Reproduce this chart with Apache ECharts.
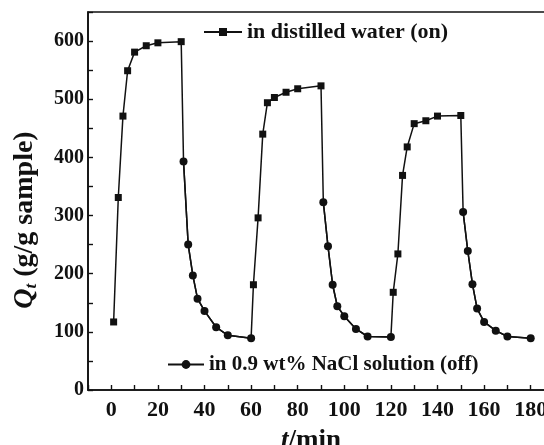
<!DOCTYPE html>
<html>
<head>
<meta charset="utf-8">
<script src="https://cdn.jsdelivr.net/npm/echarts@6/dist/echarts.min.js"></script>
<style>
  html, body { margin: 0; padding: 0; background: #fff; }
  #main { width: 544px; height: 445px; }
</style>
</head>
<body>
<div id="main"></div>
<script>
// 数据：溶胀（蒸馏水）与退溶胀（0.9 wt% NaCl）三个循环
var onTime = [1, 3, 5, 7, 10, 15, 20, 30, 61, 63, 65, 67, 70, 75, 80, 90, 121, 123, 125, 127, 130, 135, 140, 150];
var onQ = [117, 331, 471, 549, 581, 592, 597, 599, 181, 296, 440, 494, 503, 512, 518, 523, 168, 234, 369, 418, 458, 463, 471, 472];
var offTime = [31, 33, 35, 37, 40, 45, 50, 60, 91, 93, 95, 97, 100, 105, 110, 120, 151, 153, 155, 157, 160, 165, 170, 180];
var offQ = [393, 250, 197, 157, 136, 108, 94, 89, 323, 247, 181, 144, 127, 105, 92, 91, 306, 239, 182, 140, 117, 102, 92, 89];
var xLabels = [0, 20, 40, 60, 80, 100, 120, 140, 160, 180];
var yLabels = [0, 100, 200, 300, 400, 500, 600];

var nameOn = 'in distilled water (on)';
var nameOff = 'in 0.9 wt% NaCl solution (off)';
var serif = '"Liberation Serif", "DejaVu Serif", serif';

// 整条曲线（按时间排序），on 点画方块，off 点不画符号
var all = [];
onTime.forEach(function (t, i) { all.push({ value: [t, onQ[i]], symbol: 'rect' }); });
offTime.forEach(function (t, i) { all.push({ value: [t, offQ[i]], symbol: 'none' }); });
all.sort(function (a, b) { return a.value[0] - b.value[0]; });

// off 点按循环断开
var offData = [];
offTime.forEach(function (t, i) {
  if (i > 0 && i % 8 === 0) offData.push([null, null]);
  offData.push([t, offQ[i]]);
});

var myChart = echarts.init(document.getElementById('main'));

option = {
  animation: false,
  color: ['#111'],
  grid: {
    left: 88, top: 12, width: 466, height: 378,
    outerBoundsMode: 'none',
    show: true, borderColor: '#111', borderWidth: 1.6
  },
  legend: [{
    data: [nameOn],
    left: 198, top: 16,
    itemWidth: 38, itemHeight: 10, itemGap: 5,
    textStyle: { fontFamily: serif, fontWeight: 'bold', fontSize: 22, color: '#111' }
  }, {
    data: [nameOff],
    left: 162, top: 349,
    itemWidth: 36, itemHeight: 11, itemGap: 6,
    textStyle: { fontFamily: serif, fontWeight: 'bold', fontSize: 21, color: '#111' }
  }],
  xAxis: {
    type: 'value',
    min: -10, max: 190, interval: 10,
    name: '{i|t}/min',
    nameLocation: 'middle',
    nameGap: 38,
    nameTextStyle: {
      fontFamily: serif, fontWeight: 'bold', fontSize: 27, color: '#111',
      padding: [0, 20, 0, 0],
      rich: { i: { fontFamily: serif, fontWeight: 'bold', fontStyle: 'italic', fontSize: 27, color: '#111' } }
    },
    splitLine: { show: false },
    axisLine: { onZero: false, lineStyle: { color: '#111', width: 1.6 } },
    axisTick: { inside: true, length: 5, lineStyle: { color: '#111', width: 1.4 } },
    axisLabel: {
      margin: 9,
      fontFamily: serif, fontWeight: 'bold', fontSize: 22, color: '#111',
      formatter: function (v) { return xLabels.indexOf(v) >= 0 ? String(v) : ''; }
    }
  },
  yAxis: {
    type: 'value',
    min: 0, max: 650, interval: 50,
    name: '{q|Q}{s|t} (g/g sample)',
    nameLocation: 'middle',
    nameRotate: 90,
    nameGap: 48,
    nameTextStyle: {
      fontFamily: serif, fontWeight: 'bold', fontSize: 28, color: '#111',
      padding: [0, 38, 0, 0],
      rich: {
        q: { fontFamily: serif, fontWeight: 'bold', fontStyle: 'italic', fontSize: 28, color: '#111' },
        s: { fontFamily: serif, fontWeight: 'bold', fontStyle: 'italic', fontSize: 17, color: '#111', padding: [14, 0, 0, 0] }
      }
    },
    splitLine: { show: false },
    axisLine: { onZero: false, lineStyle: { color: '#111', width: 1.6 } },
    axisTick: { inside: true, length: 5, lineStyle: { color: '#111', width: 1.4 } },
    axisLabel: {
      margin: 4,
      fontFamily: serif, fontWeight: 'bold', fontSize: 20, color: '#111',
      formatter: function (v) { return yLabels.indexOf(v) >= 0 ? String(v) : ''; }
    }
  },
  series: [{
    name: nameOn,
    type: 'line',
    data: all,
    symbol: 'rect',
    symbolSize: 7,
    lineStyle: { color: '#111', width: 1.5 },
    itemStyle: { color: '#111' }
  }, {
    name: nameOff,
    type: 'line',
    data: offData,
    symbol: 'circle',
    symbolSize: 8,
    connectNulls: false,
    lineStyle: { color: '#111', width: 1.5 },
    itemStyle: { color: '#111' }
  }]
};

myChart.setOption(option);
</script>
</body>
</html>
